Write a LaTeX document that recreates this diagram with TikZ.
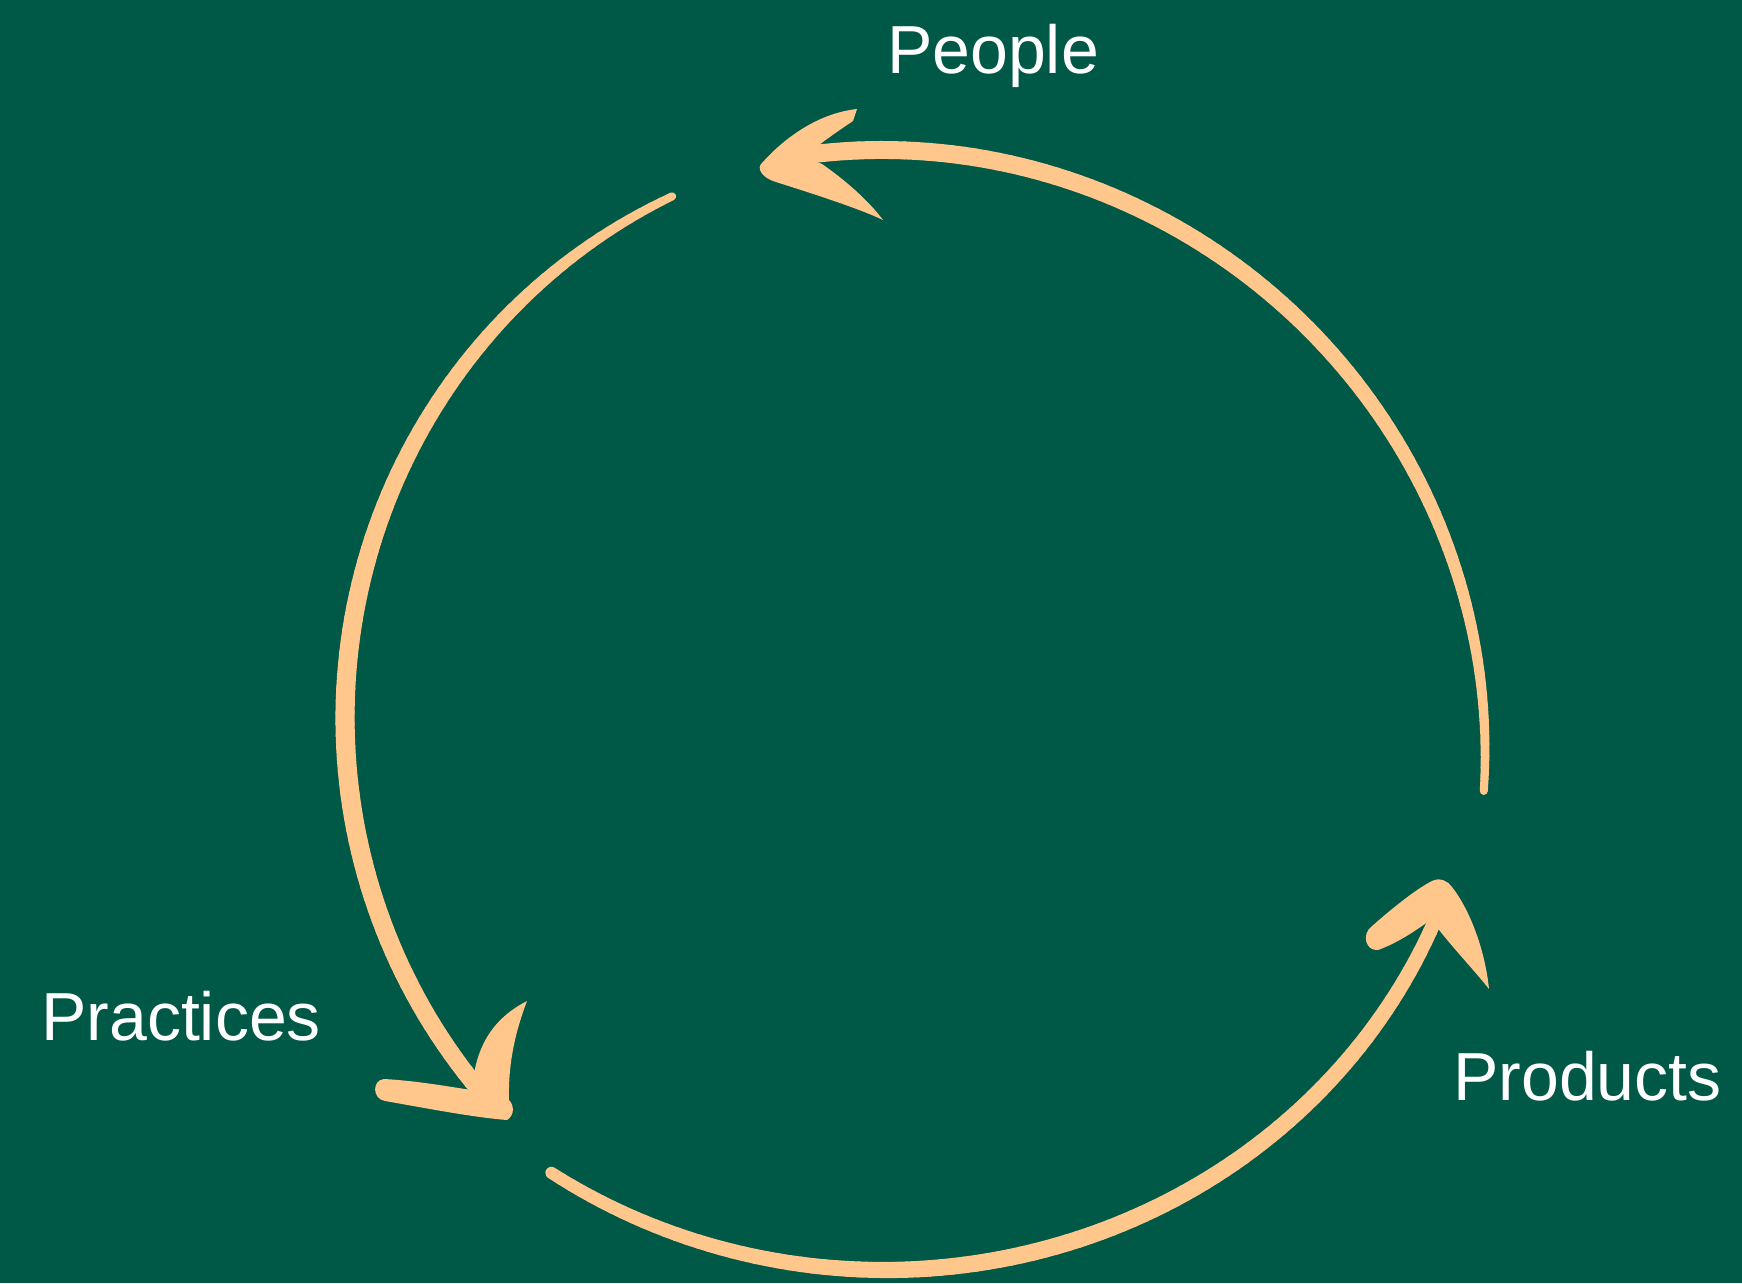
\documentclass[tikz,border=0pt]{standalone}
\usepackage{fontspec}
\setmainfont{Liberation Sans}
\definecolor{bggreen}{RGB}{0,88,70}
\definecolor{peach}{RGB}{255,199,140}
% ellipse parameters: centre x, centre y (y down), radius x, radius y, rotation
\newcommand\setell[5]{\def\ecx{#1}\def\ecy{#2}\def\erx{#3}\def\ery{#4}\def\erot{#5}}
% tapered elliptical stroke: start angle, end angle, start width, end width, bump
\newcommand\taperarc[5]{%
  \foreach \i in {0,...,89}{%
    \pgfmathsetmacro\tA{#1+(#2-#1)*\i/90}%
    \pgfmathsetmacro\tB{#1+(#2-#1)*(\i+1)/90}%
    \pgfmathsetmacro\uu{(\i+0.5)/90}%
    \pgfmathsetmacro\ww{#3*(1-\uu)+#4*\uu+#5*sin(180*\uu)}%
    \pgfmathsetmacro\xA{\ecx+\erx*cos(\tA)*cos(\erot)-\ery*sin(\tA)*sin(\erot)}%
    \pgfmathsetmacro\yA{\ecy-(\ery*sin(\tA)*cos(\erot)+\erx*cos(\tA)*sin(\erot))}%
    \pgfmathsetmacro\xB{\ecx+\erx*cos(\tB)*cos(\erot)-\ery*sin(\tB)*sin(\erot)}%
    \pgfmathsetmacro\yB{\ecy-(\ery*sin(\tB)*cos(\erot)+\erx*cos(\tB)*sin(\erot))}%
    \draw[stroke, line width=\ww pt] (\xA,\yA) -- (\xB,\yB);
  }}
\tikzset{
  stroke/.style={draw=peach, line cap=round},
  headfill/.style={fill=peach},
  label/.style={text=white, inner sep=0pt, anchor=base west,
    font=\fontsize{68}{68}\selectfont}
}
\begin{document}
\begin{tikzpicture}[x=1pt,y=-1pt]
\fill[bggreen] (0,0) rectangle (1742,1283);
\useasboundingbox (0,0) rectangle (1742,1283);

% labels
\node[label] (people) at (887,73) {People};
\node[label] (practices) at (41,1040) {Practices};
\node[label] (products) at (1453,1100) {Products};

% arc from Products up to People
\setell{900}{735}{594}{576}{-45}
\taperarc{40.4}{144}{8}{18}{3}

% arc from People down to Practices
\setell{913}{718}{568}{576}{0}
\taperarc{115.1}{220.3}{8}{17}{6}

% arc from Practices over the bottom to Products
\setell{885}{705}{595}{565}{0}
\taperarc{235.9}{337.5}{12}{14}{4}

% arrowhead near People
\fill[headfill] (762,163) .. controls (786,136) and (820,113) .. (857,109)
  -- (853,121) .. controls (835,133) and (815,147) .. (805,157)
  -- (822,164) .. controls (845,180) and (868,200) .. (883,220)
  .. controls (860,209) and (820,196) .. (776,182)
  .. controls (762,178) and (756,168) .. (762,163) -- cycle;

% arrowhead near Practices
\fill[headfill] (384,1079) .. controls (420,1081) and (450,1087) .. (472,1090)
  .. controls (475,1050) and (490,1020) .. (527,1001)
  .. controls (516,1030) and (508,1062) .. (509,1100)
  .. controls (514,1105) and (515,1115) .. (507,1120)
  .. controls (470,1117) and (420,1107) .. (385,1101)
  .. controls (372,1099) and (372,1080) .. (384,1079) -- cycle;

% arrowhead near Products
\fill[headfill] (1371,927) .. controls (1390,910) and (1416,889) .. (1432,881)
  .. controls (1440,877) and (1448,881) .. (1452,887)
  .. controls (1470,910) and (1485,950) .. (1489,989)
  .. controls (1474,970) and (1452,947) .. (1436,926)
  -- (1429,921) .. controls (1414,932) and (1395,944) .. (1378,950)
  .. controls (1365,951) and (1362,934) .. (1371,927) -- cycle;
\end{tikzpicture}
\end{document}
